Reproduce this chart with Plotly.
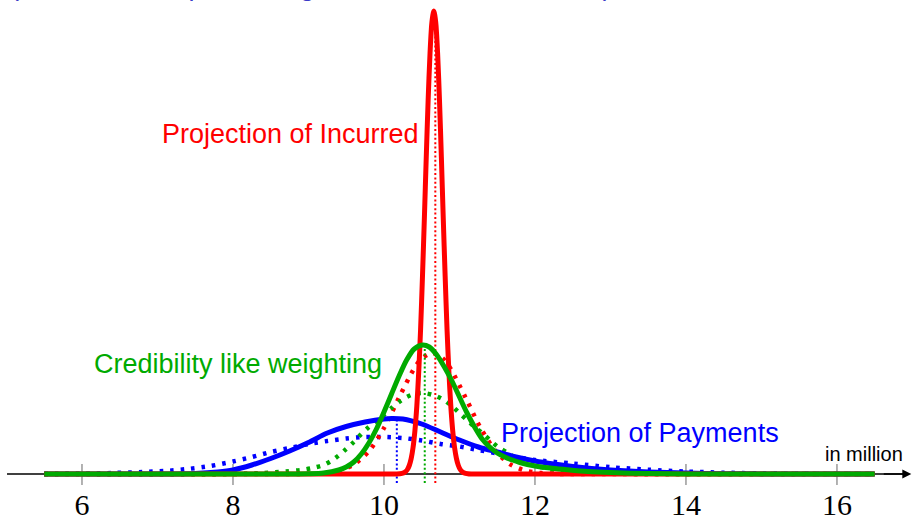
import plotly.graph_objects as go

# ---- data (heights above the axis) ----
tick_vals = [6, 8, 10, 12, 14, 16]
tick_text = ["6", "8", "10", "12", "14", "16"]

# solid curves
blue_solid_x = [5.5, 7.0, 7.5, 7.8, 8.0, 8.25, 8.5, 8.75, 9.0, 9.25, 9.5, 9.75, 10.0, 10.1, 10.25,
                10.5, 10.75, 11.0, 11.25, 11.5, 11.75, 12.0, 12.25, 12.5, 12.75, 13.0, 13.5, 14.0,
                14.5, 15.0, 16.5]
blue_solid_y = [0, 0, 0.5, 2, 4, 9, 15.5, 23, 31.5, 41, 47.5, 52, 55, 55.5, 55, 50, 42, 34, 27,
                22, 17, 13, 10, 7.5, 5.5, 4, 2, 0.9, 0.3, 0.1, 0]

red_solid_x = [5.5, 10.16, 10.21, 10.26, 10.285, 10.31, 10.335, 10.36, 10.385, 10.41, 10.435,
               10.46, 10.485, 10.51, 10.535, 10.56, 10.585, 10.61, 10.635, 10.66, 10.685, 10.71,
               10.735, 10.76, 10.785, 10.81, 10.835, 10.86, 10.885, 10.91, 10.935, 10.96, 10.985,
               11.01, 11.035, 11.06, 11.11, 11.16, 16.5]
red_solid_y = [0, 0, 0.2, 1.1, 2.3, 4.5, 8.5, 15.4, 26.5, 43.6, 68, 102, 145, 198, 256, 317, 374,
               421, 452, 463, 452, 421, 374, 317, 256, 198, 145, 102, 68, 43.6, 26.5, 15.4, 8.5,
               4.5, 2.3, 1.1, 0.2, 0, 0]

green_solid_x = [5.5, 8.8, 9.0, 9.2, 9.4, 9.5, 9.6, 9.7, 9.8, 9.9, 10.0, 10.1, 10.2, 10.3, 10.4,
                 10.51, 10.6, 10.7, 10.8, 10.9, 11.0, 11.1, 11.2, 11.3, 11.4, 11.5, 11.6, 11.7,
                 11.8, 11.9, 12.0, 12.2, 12.4, 12.7, 13.0, 13.5, 14.0, 14.5, 16.5]
green_solid_y = [0, 0, 0.2, 1, 4, 7, 12, 20, 31, 45, 62, 80, 98, 114, 125, 129, 127, 119, 107,
                 93, 77, 61, 47, 35, 27, 21, 17, 14, 11.5, 9.5, 8, 6, 4.5, 2.5, 1.4, 0.5, 0.1, 0, 0]

# dotted curves
blue_dot_x = [5.5, 6.0, 6.4, 6.8, 7.1, 7.4, 7.7, 8.0, 8.25, 8.5, 8.75, 9.0, 9.25, 9.5, 9.75,
              10.0, 10.25, 10.5, 10.75, 11.0, 11.25, 11.5, 11.75, 12.0, 12.5, 13.0, 13.5, 14.0,
              14.5, 15.0, 15.5, 16.0, 16.5]
blue_dot_y = [0, 0.3, 1, 2, 3, 5, 8, 12.5, 17, 22, 26, 30, 33, 35.5, 37, 37, 36, 33.5, 30, 27.5,
              24, 20.5, 17, 14, 10.5, 6.8, 4.3, 2.5, 1.3, 0.6, 0.2, 0.05, 0]

red_dot_x = [5.5, 8.8, 9.0, 9.2, 9.4, 9.6, 9.8, 10.0, 10.2, 10.4, 10.5, 10.64, 10.78, 10.88,
             11.08, 11.28, 11.48, 11.68, 11.88, 12.08, 12.28, 12.5, 16.5]
red_dot_y = [0, 0, 0.2, 0.9, 3.2, 9.4, 22.8, 46, 76.5, 105.6, 115.5, 121, 115.5, 105.6, 76.5,
             46, 22.8, 9.4, 3.2, 0.9, 0.2, 0, 0]

green_dot_x = [5.5, 8.0, 8.4, 8.7, 8.9, 9.05, 9.2, 9.3, 9.4, 9.5, 9.6, 9.7, 9.8, 9.9, 10.0,
               10.1, 10.2, 10.3, 10.4, 10.52, 10.65, 10.77, 10.9, 11.0, 11.1, 11.2, 11.3, 11.43,
               11.51, 11.64, 11.77, 11.9, 12.02, 12.17, 12.33, 12.5, 12.8, 13.2, 13.6, 16.5]
green_dot_y = [0, 0, 1, 2.5, 4, 6, 9, 13, 18.5, 25, 32, 40, 47, 53, 59, 66, 72, 77, 80, 81, 79,
               75, 68, 61, 54, 47, 41, 32, 27, 21, 15, 11, 8, 5.5, 3.5, 2, 0.8, 0.2, 0, 0]

# vertical mean markers: x position, top height
mean_x = {"blue": 10.17, "green": 10.54, "red": 10.68}
mean_top = {"blue": 54, "green": 127, "red": 458}
mean_bottom = -9

BLUE = "#0000ff"
RED = "#ff0000"
GREEN = "#00aa00"
colors = {"blue": BLUE, "red": RED, "green": GREEN}

X_RANGE = [4.914, 17.007]
Y_RANGE = [-45, 474]

fig = go.Figure()

# axis line
fig.add_trace(go.Scatter(x=[5.007, 16.9], y=[0, 0], mode="lines",
                         line=dict(color="black", width=1.5), hoverinfo="skip"))
# tick marks
tx, ty = [], []
for v in tick_vals:
    tx += [v, v, None]
    ty += [-11, 10, None]
fig.add_trace(go.Scatter(x=tx, y=ty, mode="lines", line=dict(color="#666666", width=1),
                         hoverinfo="skip"))

# dotted curves
for xs, ys, c in [(blue_dot_x, blue_dot_y, BLUE), (red_dot_x, red_dot_y, RED),
                  (green_dot_x, green_dot_y, GREEN)]:
    fig.add_trace(go.Scatter(x=xs, y=ys, mode="lines",
                             line=dict(color=c, width=4.5, dash="3.5px,7px", shape="spline",
                                       smoothing=0.8),
                             hoverinfo="skip"))

# vertical mean lines
for k in ["blue", "green", "red"]:
    fig.add_trace(go.Scatter(x=[mean_x[k], mean_x[k]], y=[mean_bottom, mean_top[k]], mode="lines",
                             line=dict(color=colors[k], width=2, dash="2px,2.4px"),
                             hoverinfo="skip"))

# solid curves
for xs, ys, c, sh in [(blue_solid_x, blue_solid_y, BLUE, "spline"),
                      (red_solid_x, red_solid_y, RED, "spline"),
                      (green_solid_x, green_solid_y, GREEN, "spline")]:
    fig.add_trace(go.Scatter(x=xs, y=ys, mode="lines",
                             line=dict(color=c, width=5, shape=sh, smoothing=0.8),
                             hoverinfo="skip"))

# tick labels
fig.add_trace(go.Scatter(x=tick_vals, y=[-33] * len(tick_vals), mode="text", text=tick_text,
                         textposition="middle center",
                         textfont=dict(family="Liberation Serif", size=30, color="black"),
                         hoverinfo="skip", cliponaxis=False))

sans = "Liberation Sans"
annotations = [
    dict(x=7.033, y=340, text="Projection of Incurred", font=dict(family=sans, size=27, color=RED)),
    dict(x=6.133, y=110, text="Credibility like weighting", font=dict(family=sans, size=27, color=GREEN)),
    dict(x=11.523, y=41, text="Projection of Payments", font=dict(family=sans, size=27, color=BLUE)),
    dict(x=15.815, y=20, text="in million", font=dict(family=sans, size=20, color="black")),
]
for a in annotations:
    a.update(xref="x", yref="y", xanchor="left", yanchor="middle", showarrow=False)

annotations.append(dict(x=5.02, y=471, xref="x", yref="y", xanchor="left", yanchor="bottom",
                        showarrow=False,
                        text="(dotted lines representing the individual estimates)",
                        font=dict(family=sans, size=27, color="#3a3ac8")))
# arrow head
annotations.append(dict(x=16.985, y=0, ax=16.6, ay=0, xref="x", yref="y", axref="x", ayref="y",
                        text="", showarrow=True, arrowhead=2, arrowsize=1.2, arrowwidth=1.5,
                        arrowcolor="black"))

fig.update_layout(
    width=913, height=519, autosize=False,
    margin=dict(l=0, r=0, t=0, b=0),
    paper_bgcolor="white", plot_bgcolor="white",
    showlegend=False,
    xaxis=dict(range=X_RANGE, visible=False, fixedrange=True),
    yaxis=dict(range=Y_RANGE, visible=False, fixedrange=True),
    annotations=annotations,
)

fig.write_html("out.html", config={"displayModeBar": False})
